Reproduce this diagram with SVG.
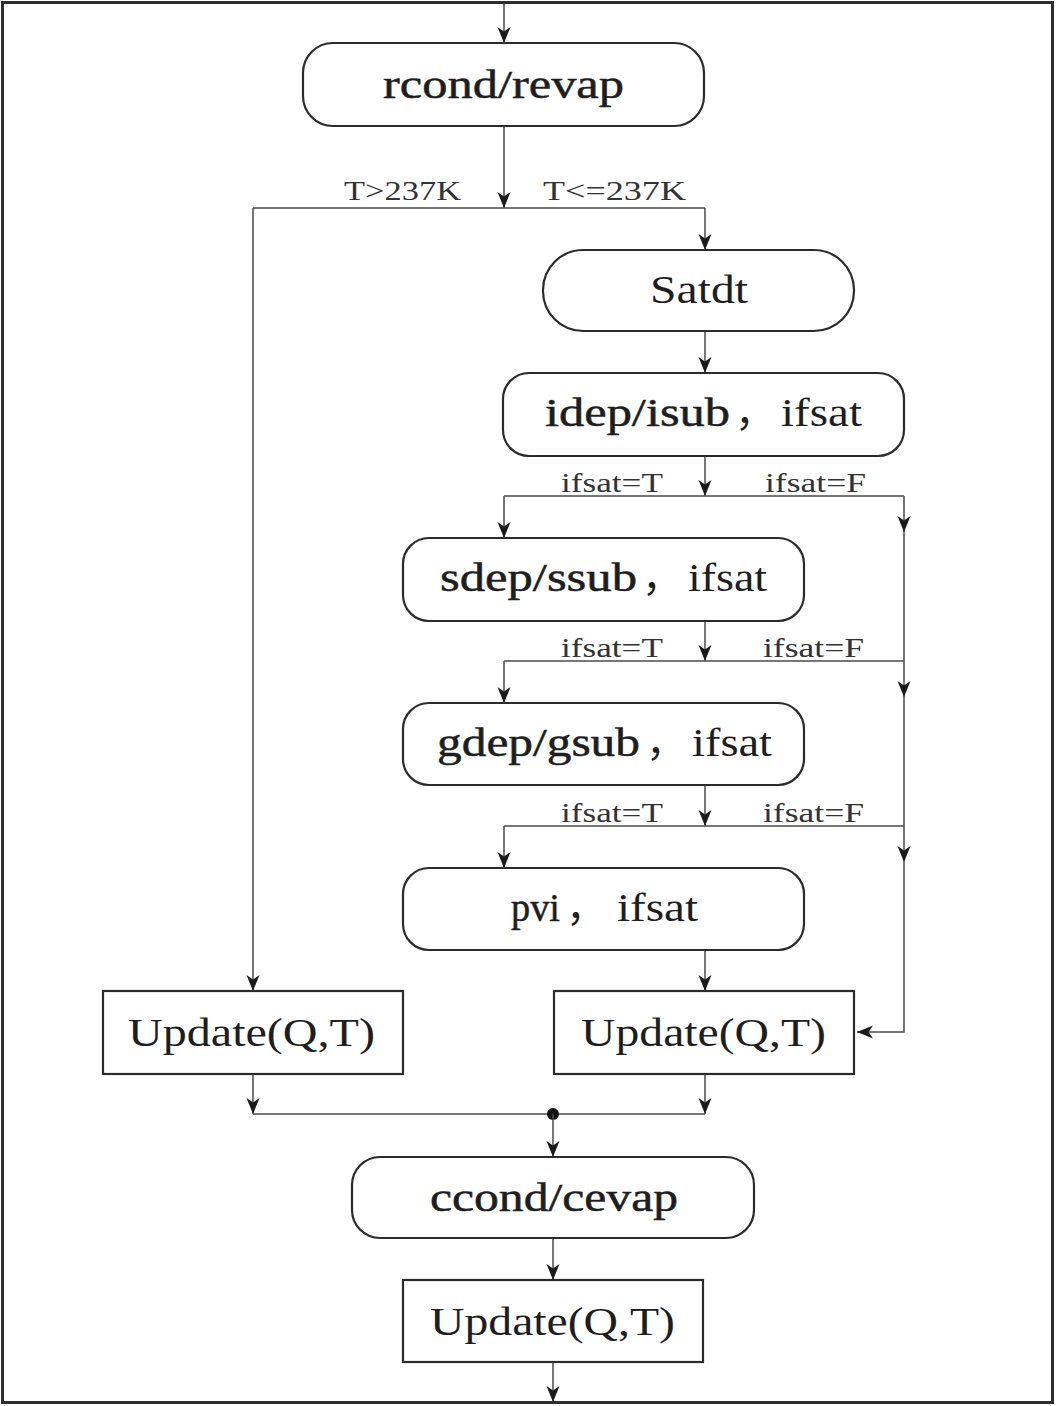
<svg xmlns="http://www.w3.org/2000/svg" width="1058" height="1406" viewBox="0 0 1058 1406">
<defs>
<marker id="arr" markerUnits="userSpaceOnUse" markerWidth="16" markerHeight="14" viewBox="0 0 16 14" refX="16" refY="7" orient="auto">
<path d="M0,0.5 L16,7 L0,13.5 L4.5,7 z" fill="#1a1a1a"/>
</marker>
<style>
.box{fill:#fff;stroke:#2b2b2b;stroke-width:2.2}
.ln{fill:none;stroke:#4a4a4a;stroke-width:1.5}
.t{font-family:"Liberation Serif","Noto Sans CJK SC",serif;fill:#1e1e1e}
.b{font-size:40px;stroke:#1e1e1e;stroke-width:0.5}
.r{font-size:40px}
.lab{font-size:27px;fill:#333}
</style>
</defs>
<rect x="2.5" y="2.5" width="1050" height="1400" fill="#fff" stroke="#2e2e2e" stroke-width="3"/>
<g id="connectors">
<path class="ln" d="M504,4 V43" marker-end="url(#arr)"/>
<path class="ln" d="M504,126 V208" marker-end="url(#arr)"/>
<path class="ln" d="M253,208 H705"/>
<path class="ln" d="M253,208 V991" marker-end="url(#arr)"/>
<path class="ln" d="M705,208 V250" marker-end="url(#arr)"/>
<path class="ln" d="M705,331 V373" marker-end="url(#arr)"/>
<path class="ln" d="M705,456 V496" marker-end="url(#arr)"/>
<path class="ln" d="M504,496 H904"/>
<path class="ln" d="M504,496 V538" marker-end="url(#arr)"/>
<path class="ln" d="M904,496 V532" marker-end="url(#arr)"/>
<path class="ln" d="M904,532 V697" marker-end="url(#arr)"/>
<path class="ln" d="M705,621 V661" marker-end="url(#arr)"/>
<path class="ln" d="M504,661 H904"/>
<path class="ln" d="M504,661 V703" marker-end="url(#arr)"/>
<path class="ln" d="M904,697 V862" marker-end="url(#arr)"/>
<path class="ln" d="M705,785 V826" marker-end="url(#arr)"/>
<path class="ln" d="M504,826 H904"/>
<path class="ln" d="M504,826 V868" marker-end="url(#arr)"/>
<path class="ln" d="M904,862 V1032 H857" marker-end="url(#arr)"/>
<path class="ln" d="M705,950 V991" marker-end="url(#arr)"/>
<path class="ln" d="M253,1074 V1114" marker-end="url(#arr)"/>
<path class="ln" d="M705,1074 V1114" marker-end="url(#arr)"/>
<path class="ln" d="M253,1114 H705"/>
<circle cx="553" cy="1114" r="6" fill="#111"/>
<path class="ln" d="M553,1114 V1157" marker-end="url(#arr)"/>
<path class="ln" d="M553,1238 V1280" marker-end="url(#arr)"/>
<path class="ln" d="M553,1362 V1402" marker-end="url(#arr)"/>
<text class="t lab" x="344" y="200" textLength="117" lengthAdjust="spacingAndGlyphs">T&gt;237K</text>
<text class="t lab" x="543" y="200" textLength="143" lengthAdjust="spacingAndGlyphs">T&lt;=237K</text>
<text class="t lab" x="561" y="492" textLength="102" lengthAdjust="spacingAndGlyphs">ifsat=T</text>
<text class="t lab" x="765" y="492" textLength="101" lengthAdjust="spacingAndGlyphs">ifsat=F</text>
<text class="t lab" x="561" y="657" textLength="102" lengthAdjust="spacingAndGlyphs">ifsat=T</text>
<text class="t lab" x="763" y="657" textLength="101" lengthAdjust="spacingAndGlyphs">ifsat=F</text>
<text class="t lab" x="561" y="822" textLength="102" lengthAdjust="spacingAndGlyphs">ifsat=T</text>
<text class="t lab" x="763" y="822" textLength="101" lengthAdjust="spacingAndGlyphs">ifsat=F</text>
</g>
<g id="rcond">
<rect class="box" x="303" y="43" width="401" height="83" rx="30"/>
<text class="t b" x="383" y="98" textLength="241" lengthAdjust="spacingAndGlyphs">rcond/revap</text>
</g>
<g id="satdt">
<rect class="box" x="543" y="250" width="311" height="81" rx="40"/>
<text class="t r" x="650" y="303" textLength="98" lengthAdjust="spacingAndGlyphs">Satdt</text>
</g>
<g id="idep">
<rect class="box" x="503" y="373" width="401" height="83" rx="26"/>
<text class="t b" x="545" y="426" textLength="185" lengthAdjust="spacingAndGlyphs">idep/isub</text>
<text class="t r" x="735" y="426">，</text>
<text class="t r" x="781" y="426" textLength="81" lengthAdjust="spacingAndGlyphs">ifsat</text>
</g>
<g id="sdep">
<rect class="box" x="403" y="538" width="401" height="83" rx="26"/>
<text class="t b" x="440" y="591" textLength="197" lengthAdjust="spacingAndGlyphs">sdep/ssub</text>
<text class="t r" x="642" y="591">，</text>
<text class="t r" x="688" y="591" textLength="79" lengthAdjust="spacingAndGlyphs">ifsat</text>
</g>
<g id="gdep">
<rect class="box" x="403" y="703" width="401" height="82" rx="26"/>
<text class="t b" x="437" y="756" textLength="203" lengthAdjust="spacingAndGlyphs">gdep/gsub</text>
<text class="t r" x="646" y="756">，</text>
<text class="t r" x="692" y="756" textLength="80" lengthAdjust="spacingAndGlyphs">ifsat</text>
</g>
<g id="pvi">
<rect class="box" x="403" y="868" width="401" height="82" rx="26"/>
<text class="t b" x="511" y="921" textLength="49" lengthAdjust="spacingAndGlyphs">pvi</text>
<text class="t r" x="566" y="921">，</text>
<text class="t r" x="617" y="921" textLength="81" lengthAdjust="spacingAndGlyphs">ifsat</text>
</g>
<g id="update-left">
<rect class="box" x="103" y="991" width="300" height="83"/>
<text class="t r" x="128" y="1046" textLength="247" lengthAdjust="spacingAndGlyphs">Update(Q,T)</text>
</g>
<g id="update-right">
<rect class="box" x="554" y="991" width="300" height="83"/>
<text class="t r" x="581" y="1046" textLength="245" lengthAdjust="spacingAndGlyphs">Update(Q,T)</text>
</g>
<g id="ccond">
<rect class="box" x="352" y="1157" width="402" height="81" rx="28"/>
<text class="t b" x="430" y="1211" textLength="248" lengthAdjust="spacingAndGlyphs">ccond/cevap</text>
</g>
<g id="update-bottom">
<rect class="box" x="403" y="1280" width="300" height="82"/>
<text class="t r" x="430" y="1335" textLength="245" lengthAdjust="spacingAndGlyphs">Update(Q,T)</text>
</g>
</svg>
